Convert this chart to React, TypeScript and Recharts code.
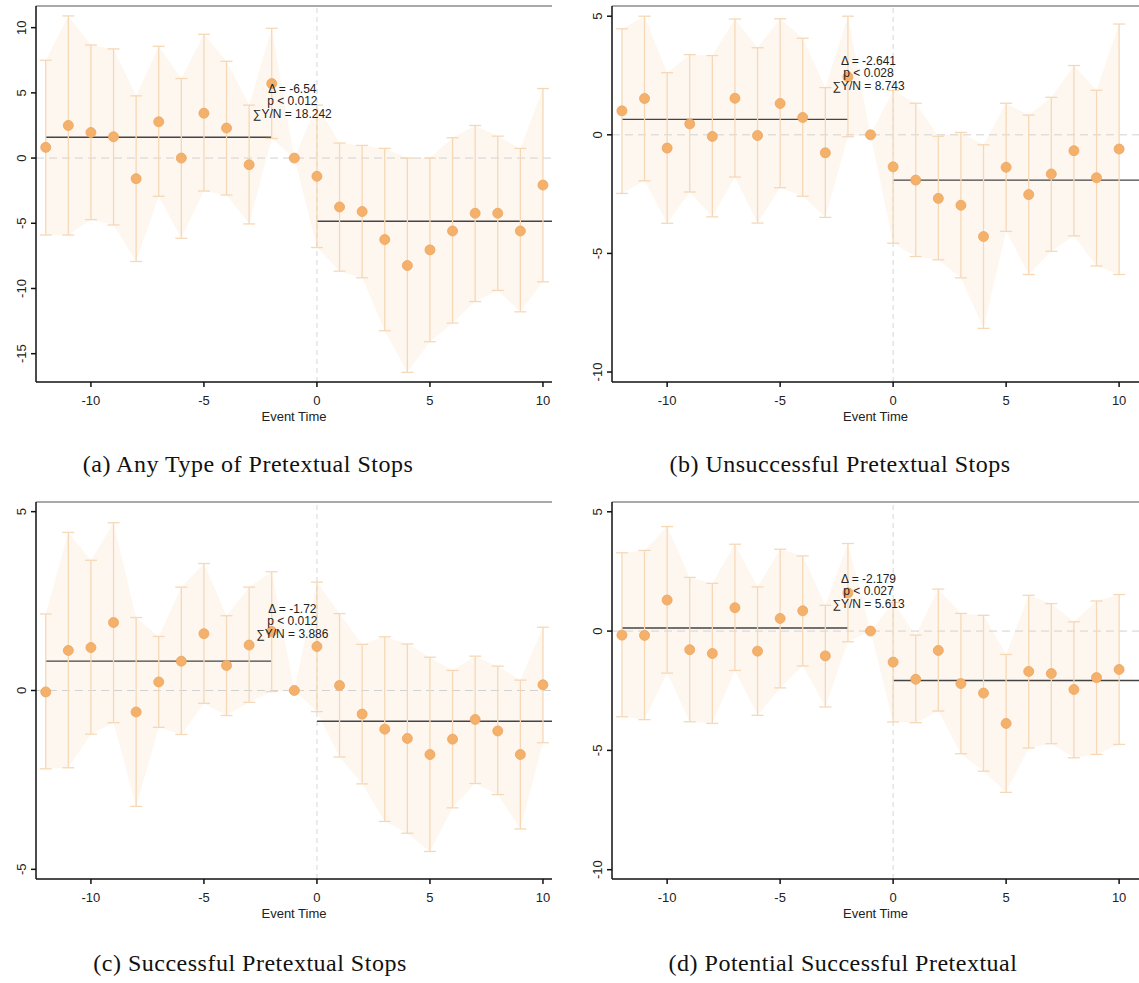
import {
  ComposedChart,
  Area,
  Line,
  ErrorBar,
  XAxis,
  YAxis,
  ReferenceLine,
  ReferenceDot,
} from 'recharts';

// event time -12 .. 10 (-1 is the omitted period)
const eventTime = [-12, -11, -10, -9, -8, -7, -6, -5, -4, -3, -2, -1, 0, 1, 2, 3, 4, 5, 6, 7, 8, 9, 10];

// (a) Any Type of Pretextual Stops
const coefA = [0.82, 2.5, 1.96, 1.63, -1.58, 2.78, 0, 3.44, 2.3, -0.51, 5.71, 0, -1.4, -3.75, -4.1, -6.25, -8.24, -7.04, -5.59, -4.23, -4.23, -5.59, -2.07];
const lowA = [-5.9, -5.9, -4.72, -5.13, -7.93, -2.93, -6.15, -2.53, -2.83, -5.05, 1.5, 0, -6.86, -8.67, -9.18, -13.24, -16.43, -14.08, -12.65, -11.0, -10.15, -11.79, -9.49];
const highA = [7.5, 10.9, 8.67, 8.37, 4.77, 8.57, 6.1, 9.49, 7.42, 4.06, 9.95, 0, 4.06, 1.15, 0.97, 0.74, 0, 0, 1.56, 2.5, 1.68, 0.74, 5.33];
const meansA = [1.6, -4.85];
const statsA = ['Δ = -6.54', 'p < 0.012', '∑Y/N = 18.242'];

// (b) Unsuccessful Pretextual Stops
const coefB = [1.01, 1.53, -0.56, 0.46, -0.07, 1.54, -0.03, 1.32, 0.73, -0.76, 2.44, 0, -1.35, -1.91, -2.68, -2.97, -4.29, -1.37, -2.52, -1.65, -0.67, -1.81, -0.6];
const lowB = [-2.47, -1.94, -3.73, -2.41, -3.46, -1.78, -3.72, -2.23, -2.59, -3.48, -0.08, 0, -4.57, -5.13, -5.27, -6.03, -8.16, -4.07, -5.89, -4.91, -4.26, -5.53, -5.89];
const highB = [4.47, 5.0, 2.62, 3.38, 3.34, 4.88, 3.67, 4.89, 4.07, 1.99, 5.0, 0, 1.87, 1.33, -0.06, 0.1, -0.42, 1.33, 0.83, 1.58, 2.92, 1.88, 4.67];
const meansB = [0.65, -1.91];
const statsB = ['Δ = -2.641', 'p < 0.028', '∑Y/N = 8.743'];

// (c) Successful Pretextual Stops
const coefC = [-0.04, 1.12, 1.2, 1.9, -0.6, 0.24, 0.82, 1.59, 0.7, 1.27, 1.65, 0, 1.23, 0.14, -0.66, -1.08, -1.34, -1.79, -1.36, -0.81, -1.13, -1.79, 0.16];
const lowC = [-2.19, -2.16, -1.22, -0.9, -3.24, -1.03, -1.23, -0.36, -0.7, -0.33, -0.03, 0, -0.59, -1.86, -2.61, -3.66, -3.99, -4.5, -3.28, -2.6, -2.91, -3.87, -1.46];
const highC = [2.14, 4.42, 3.64, 4.69, 2.04, 1.51, 2.89, 3.55, 2.09, 2.89, 3.32, 0, 3.03, 2.15, 1.29, 1.5, 1.3, 0.93, 0.56, 0.96, 0.68, 0.29, 1.77];
const meansC = [0.82, -0.86];
const statsC = ['Δ = -1.72', 'p < 0.012', '∑Y/N = 3.886'];

// (d) Potential Successful Pretextual
const coefD = [-0.17, -0.18, 1.3, -0.78, -0.94, 0.98, -0.84, 0.53, 0.85, -1.04, 1.6, 0, -1.3, -2.02, -0.81, -2.2, -2.6, -3.87, -1.69, -1.78, -2.45, -1.95, -1.61];
const lowD = [-3.59, -3.71, -1.76, -3.8, -3.87, -1.65, -3.53, -2.38, -1.46, -3.18, -0.45, 0, -3.81, -3.84, -3.35, -5.14, -5.87, -6.76, -4.9, -4.72, -5.31, -5.17, -4.75];
const highD = [3.28, 3.38, 4.38, 2.25, 2.0, 3.64, 1.85, 3.43, 3.15, 1.08, 3.67, 0, 1.2, -0.17, 1.76, 0.74, 0.66, -0.98, 1.5, 1.15, 0.39, 1.26, 1.53];
const meansD = [0.13, -2.07];
const statsD = ['Δ = -2.179', 'p < 0.027', '∑Y/N = 5.613'];

const xTicks = [-10, -5, 0, 5, 10];

const SANS = 'Arial, "Liberation Sans", sans-serif';
const BAND = '#fef7f0';
const BAR = '#f6d8b6';
const DOT = '#f4b16b';

interface PanelProps {
  coef: number[];
  low: number[];
  high: number[];
  means: number[];
  stats: string[];
  statsY: number;
  xDomain: [number, number];
  yDomain: [number, number];
  yTicks: number[];
  left: number;
  top: number;
  width: number;
  plotHeight: number;
  caption: string;
  captionX: number;
  captionY: number;
}

// 세로로 돌린 y축 눈금
const YTick = (props: any) => {
  const { x, y, payload } = props;
  return (
    <text
      transform={`translate(${x - 3},${y}) rotate(-90)`}
      textAnchor="middle"
      fontSize={13}
      fill="#222"
      fontFamily={SANS}
    >
      {payload.value}
    </text>
  );
};

function Panel(p: PanelProps) {
  const data = eventTime.map((t, i) => ({
    t,
    coef: p.coef[i],
    band: [p.low[i], p.high[i]],
    err: [p.coef[i] - p.low[i], p.high[i] - p.coef[i]],
  }));

  const statsLabel = (props: any) => {
    const vb = props.viewBox || {};
    const cx = (vb.x ?? 0) + (vb.width ?? 0) / 2 - 2;
    const cy = (vb.y ?? 0) + (vb.height ?? 0) / 2;
    return (
      <text x={cx} y={cy} textAnchor="middle" fontSize={12} fill="#222" fontFamily={SANS}>
        {p.stats.map((s, i) => (
          <tspan key={i} x={cx} y={cy + (i - 1) * 12.5} dominantBaseline="central">
            {s}
          </tspan>
        ))}
      </text>
    );
  };

  return (
    <>
      <div style={{ position: 'absolute', left: p.left, top: p.top }}>
        <ComposedChart
          width={p.width}
          height={6 + p.plotHeight + 46}
          data={data}
          margin={{ top: 6, right: 0, bottom: 0, left: 0 }}
        >
          <XAxis
            dataKey="t"
            type="number"
            domain={p.xDomain}
            allowDataOverflow
            ticks={xTicks}
            height={46}
            tickSize={5}
            tickMargin={9}
            stroke="#111"
            strokeWidth={1.5}
            tick={{ fontSize: 13, fill: '#222', fontFamily: SANS }}
            label={{ value: 'Event Time', position: 'insideBottom', offset: 7, fontSize: 13, fill: '#222', fontFamily: SANS }}
          />
          <YAxis
            type="number"
            domain={p.yDomain}
            allowDataOverflow
            ticks={p.yTicks}
            width={36}
            tickSize={5}
            tickMargin={2}
            stroke="#111"
            strokeWidth={1.5}
            tick={<YTick />}
          />
          <Area
            type="linear"
            dataKey="band"
            stroke="none"
            fill={BAND}
            fillOpacity={1}
            isAnimationActive={false}
          />
          <ReferenceLine y={0} stroke="#d2d2d2" strokeDasharray="8 5" />
          <ReferenceLine x={0} stroke="#d6d6d6" strokeDasharray="5 4" />
          <ReferenceLine y={p.yDomain[1]} stroke="#555" strokeWidth={1.2} />
          <ReferenceLine
            segment={[{ x: -12, y: p.means[0] }, { x: -2, y: p.means[0] }]}
            stroke="#444"
            strokeWidth={1.4}
          />
          <ReferenceLine
            segment={[{ x: 0, y: p.means[1] }, { x: p.xDomain[1], y: p.means[1] }]}
            stroke="#444"
            strokeWidth={1.4}
          />
          <Line
            dataKey="coef"
            stroke="none"
            strokeWidth={0}
            isAnimationActive={false}
            activeDot={false}
            dot={(d: any) => (
              <circle key={`dot-${d.index}`} cx={d.cx} cy={d.cy} r={5} fill={DOT} stroke="#eea45e" strokeWidth={0.8} />
            )}
          >
            <ErrorBar dataKey="err" direction="y" width={6} stroke={BAR} strokeWidth={1.3} isAnimationActive={false} />
          </Line>
          <ReferenceDot x={-1} y={p.statsY} r={0} fill="none" stroke="none" label={statsLabel} />
        </ComposedChart>
      </div>
      <div
        style={{
          position: 'absolute',
          left: p.captionX - 250,
          width: 500,
          top: p.captionY - 13,
          lineHeight: '26px',
          textAlign: 'center',
          fontFamily: '"Liberation Serif", serif',
          fontSize: 24,
          letterSpacing: 0.5,
          color: '#111',
        }}
      >
        {p.caption}
      </div>
    </>
  );
}

export default function App() {
  return (
    <div style={{ position: 'absolute', left: 0, top: 0, width: 1139, height: 983, background: '#fff' }}>
      <Panel
        coef={coefA} low={lowA} high={highA} means={meansA} stats={statsA} statsY={4.37}
        xDomain={[-12.43, 10.4]} yDomain={[-17.17, 11.66]} yTicks={[-15, -10, -5, 0, 5, 10]}
        left={0} top={0} width={552} plotHeight={376}
        caption="(a) Any Type of Pretextual Stops" captionX={248} captionY={464}
      />
      <Panel
        coef={coefB} low={lowB} high={highB} means={meansB} stats={statsB} statsY={2.6}
        xDomain={[-12.44, 10.88]} yDomain={[-10.42, 5.43]} yTicks={[-10, -5, 0, 5]}
        left={576} top={0} width={563} plotHeight={376}
        caption="(b) Unsuccessful Pretextual Stops" captionX={840} captionY={464}
      />
      <Panel
        coef={coefC} low={lowC} high={highC} means={meansC} stats={statsC} statsY={1.94}
        xDomain={[-12.43, 10.4]} yDomain={[-5.27, 5.27]} yTicks={[-5, 0, 5]}
        left={0} top={496} width={552} plotHeight={377}
        caption="(c) Successful Pretextual Stops" captionX={250} captionY={963}
      />
      <Panel
        coef={coefD} low={lowD} high={highD} means={meansD} stats={statsD} statsY={1.68}
        xDomain={[-12.44, 10.88]} yDomain={[-10.39, 5.41]} yTicks={[-10, -5, 0, 5]}
        left={576} top={496} width={563} plotHeight={377}
        caption="(d) Potential Successful Pretextual" captionX={843} captionY={963}
      />
    </div>
  );
}
